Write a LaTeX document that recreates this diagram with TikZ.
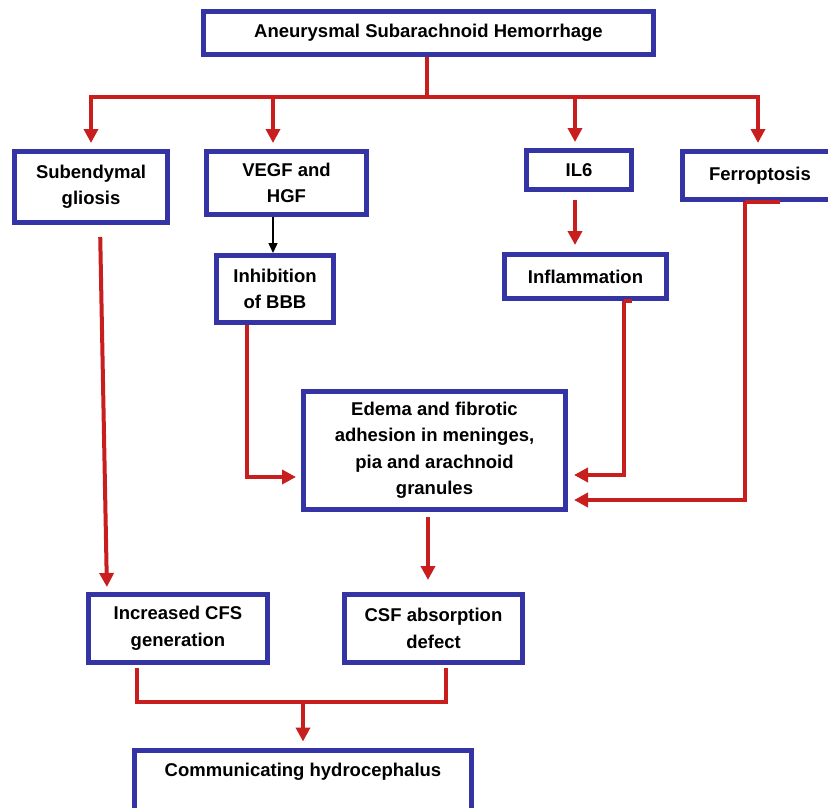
\documentclass[tikz,border=0pt]{standalone}
\usepackage{fontspec}
\setmainfont{Liberation Sans}
\usetikzlibrary{arrows.meta}
\definecolor{bblue}{HTML}{3434A4}
\definecolor{rred}{HTML}{C81E1E}
\begin{document}
\begin{tikzpicture}[x=1pt,y=-1pt,
 box/.style={draw=bblue, line width=5pt, fill=white, align=center, inner sep=0pt,
   font=\bfseries\fontsize{18.5}{26.5}\selectfont},
 plain/.style={align=center, inner sep=0pt, font=\bfseries\fontsize{18.5}{26.5}\selectfont},
 rline/.style={draw=rred, line width=4pt},
 rarrow/.style={rline, -{Triangle[width=14pt,length=14pt]}},
 karrow/.style={draw=black, line width=1.5pt, -{Triangle[width=9pt,length=10pt]}}]
\useasboundingbox[fill=white] (0,0) rectangle (828,808);

% boxes
\node[box, minimum width=450pt, minimum height=43pt] (top) at (428.5,33) {Aneurysmal Subarachnoid Hemorrhage};
\node[box, minimum width=153pt, minimum height=71pt] (sub) at (91,187) {Subendymal\\gliosis};
\node[box, minimum width=160pt, minimum height=63pt] (vegf) at (286.5,183) {VEGF and\\HGF};
\node[box, minimum width=105pt, minimum height=39pt] (il6) at (579,170) {IL6};
\node[box, minimum width=155pt, minimum height=48pt] (ferr) at (760,175.5) {Ferroptosis};
\node[box, minimum width=117pt, minimum height=67pt] (inh) at (275,289) {Inhibition\\of BBB};
\node[box, minimum width=162pt, minimum height=44pt] (infl) at (585.5,276.5) {Inflammation};
\node[box, minimum width=262pt, minimum height=118pt] (edema) at (434.5,450.5) {Edema and fibrotic\\adhesion in meninges,\\pia and arachnoid\\granules};
\node[box, minimum width=179pt, minimum height=68pt] (incr) at (178,628.5) {Increased CFS\\generation};
\node[box, minimum width=178pt, minimum height=68pt] (csf) at (433.5,628.5) {CSF absorption\\defect};
\node[box, minimum width=337pt, minimum height=62pt] (comm) at (303,781) {};
\node[plain] (commtxt) at (303,772) {Communicating hydrocephalus};

% coordinates for routing
\coordinate (hub) at (427,97);
\coordinate (b1) at (91,97);
\coordinate (b2) at (273,97);
\coordinate (b3) at (575,97);
\coordinate (b4) at (758,97);
\coordinate (c1) at (247,477);
\coordinate (c2) at (624,475);
\coordinate (c3) at (745,500);
\coordinate (c4) at (428,540);
\coordinate (m1) at (137,702);
\coordinate (m2) at (446,702);
\coordinate (m3) at (303,702);

% top fan-out
\draw[rline] (top.south -| hub) -- (hub);
\draw[rarrow, shorten >=6pt] (hub) -- (b1) -- (b1 |- sub.north);
\draw[rarrow, shorten >=6pt] (hub) -- (b4) -- (b4 |- ferr.north);
\draw[rarrow, shorten >=6pt] (b2) -- (b2 |- vegf.north);
\draw[rarrow, shorten >=6pt] (b3) -- (b3 |- il6.north);

% VEGF -> Inhibition
\draw[karrow] (vegf.south -| b2) -- (inh.north -| b2);

% IL6 -> Inflammation
\draw[rarrow, shorten <=8pt, shorten >=7pt] (il6.south -| b3) -- (infl.north -| b3);

% Subendymal -> Increased
\draw[rarrow, shorten <=12pt, shorten >=5pt] ([xshift=9pt]sub.south) -- ([xshift=-71pt]incr.north);

% Inhibition -> Edema
\draw[rarrow, shorten >=5pt] (inh.south -| c1) -- (c1) -- (edema.west |- c1);

% Inflammation -> Edema
\draw[rline] (infl.south -| c2) -- ++(8,0);
\draw[rarrow, shorten >=6pt] (infl.south -| c2) -- (c2) -- (edema.east |- c2);

% Ferroptosis -> Edema
\draw[rline] (ferr.south -| c3) -- ++(35,0);
\draw[rarrow, shorten >=6pt] (ferr.south -| c3) -- (c3) -- (edema.east |- c3);

% Edema -> CSF
\draw[rarrow, shorten <=5pt, shorten >=12pt] (edema.south -| c4) -- (csf.north -| c4);

% merge to hydrocephalus
\draw[rline, shorten <=3pt] (incr.south -| m1) -- (m1) -- (m2) -- ([yshift=-3pt]csf.south -| m2);
\draw[rarrow, shorten >=6pt] (m3) -- (comm.north -| m3);
\end{tikzpicture}
\end{document}
